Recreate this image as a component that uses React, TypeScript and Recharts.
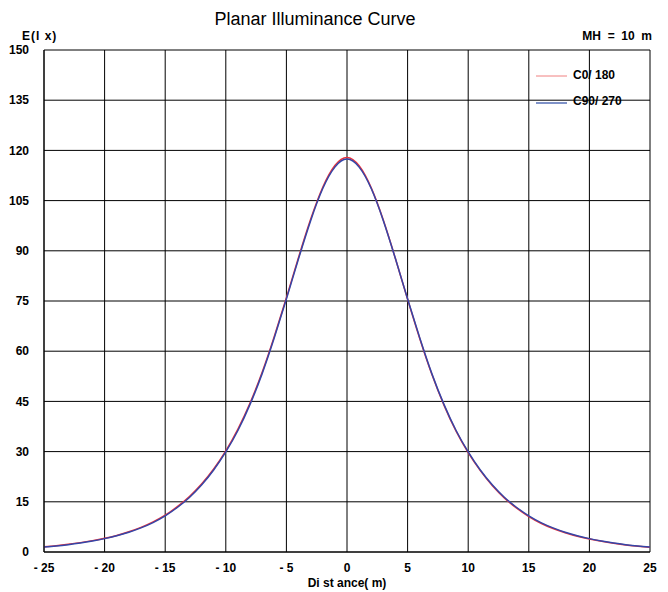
import React from "react";
import { LineChart, Line, XAxis, YAxis, CartesianGrid } from "recharts";

const distances = [-25, -24, -23, -22, -21, -20, -19, -18, -17, -16, -15, -14, -13, -12, -11, -10, -9, -8, -7, -6, -5, -4, -3, -2, -1, 0, 1, 2, 3, 4, 5, 6, 7, 8, 9, 10, 11, 12, 13, 14, 15, 16, 17, 18, 19, 20, 21, 22, 23, 24, 25];
const c0Values = [1.6, 1.9, 2.3, 2.8, 3.4, 4.1, 4.95, 6.05, 7.35, 9.0, 11.0, 13.55, 16.6, 20.3, 24.8, 30.2, 36.7, 44.5, 53.7, 64.4, 76.0, 88.0, 99.4, 109.0, 115.5, 117.9, 115.4, 108.8, 99.1, 87.6, 75.5, 63.8, 53.1, 43.9, 36.1, 29.7, 24.3, 19.8, 16.1, 13.1, 10.6, 8.6, 7.0, 5.75, 4.7, 3.9, 3.2, 2.6, 2.1, 1.75, 1.4];
const c90Values = [1.5, 1.8, 2.2, 2.7, 3.3, 4.0, 4.85, 5.9, 7.2, 8.8, 10.8, 13.3, 16.3, 20.0, 24.5, 29.9, 36.3, 44.1, 53.3, 64.0, 75.6, 87.6, 99.0, 108.6, 115.0, 117.4, 115.0, 108.6, 99.0, 87.6, 75.6, 64.0, 53.3, 44.1, 36.3, 29.9, 24.5, 20.0, 16.3, 13.3, 10.8, 8.8, 7.2, 5.9, 4.85, 4.0, 3.3, 2.7, 2.2, 1.8, 1.5];

const xTicks = [-25, -20, -15, -10, -5, 0, 5, 10, 15, 20, 25];
const xTickLabels = ["- 25", "- 20", "- 15", "- 10", "- 5", "0", "5", "10", "15", "20", "25"];
const yTicks = [0, 15, 30, 45, 60, 75, 90, 105, 120, 135, 150];

const seriesNames = ["C0/ 180", "C90/ 270"];
const seriesColors = ["#e8323c", "#3446a8"];
const legendColors = ["#f08080", "#7f92c8"];

const data = distances.map((d, i) => ({ x: d, c0: c0Values[i], c90: c90Values[i] }));

const FONT = '"Liberation Sans", Arial, sans-serif';

const tickStyle = { fontFamily: FONT, fontSize: 12, fontWeight: 700, fill: "#000" };

const LegendBox = () => (
  <div style={{ position: "absolute", left: 536, top: 62, fontFamily: FONT, fontSize: 12, fontWeight: 700, color: "#000" }}>
    {seriesNames.map((n, i) => (
      <div key={n} style={{ display: "flex", alignItems: "center", height: 26 }}>
        <svg width={36} height={8} style={{ marginRight: 1 }}>
          <line x1={0} y1={i === 0 ? 5 : 6} x2={31} y2={i === 0 ? 5 : 6} stroke={legendColors[i]} strokeWidth={i === 0 ? 1 : 2} />
        </svg>
        <span style={{ whiteSpace: "pre" }}>{n}</span>
      </div>
    ))}
  </div>
);

export default function App() {
  return (
    <div style={{ position: "absolute", left: 0, top: 0, width: 668, height: 592, background: "#fff" }}>
      <div style={{ position: "absolute", left: 0, width: 630, top: 8, textAlign: "center", fontFamily: FONT, fontSize: 18, lineHeight: "22px", color: "#000" }}>
        Planar Illuminance Curve
      </div>
      <div style={{ position: "absolute", left: 22, top: 29, fontFamily: FONT, fontSize: 12, fontWeight: 700, letterSpacing: 1, lineHeight: "14px", whiteSpace: "pre" }}>
        E(l x)
      </div>
      <div style={{ position: "absolute", right: 16, top: 29, fontFamily: FONT, fontSize: 12, fontWeight: 700, lineHeight: "14px", whiteSpace: "pre" }}>
        {"MH  =  10  m"}
      </div>
      <LineChart width={668} height={592} data={data} margin={{ top: 50, right: 18, left: 0, bottom: 0 }} style={{ position: "absolute", left: 0, top: 0 }}>
        <CartesianGrid stroke="#000" strokeWidth={1} />
        <XAxis
          type="number"
          dataKey="x"
          domain={[-25, 25]}
          ticks={xTicks}
          tickFormatter={(v) => xTickLabels[xTicks.indexOf(v)]}
          tick={tickStyle}
          tickLine={false}
          tickMargin={5}
          axisLine={{ stroke: "#000" }}
          height={40}
          interval={0}
          label={{ value: "Di st ance( m)", position: "insideBottom", offset: 5, style: { ...tickStyle, whiteSpace: "pre" } }}
        />
        <YAxis
          type="number"
          domain={[0, 150]}
          ticks={yTicks}
          tick={tickStyle}
          tickLine={false}
          tickMargin={9}
          axisLine={{ stroke: "#000" }}
          width={44}
          interval={0}
        />
        <Line type="natural" dataKey="c0" name={seriesNames[0]} stroke={seriesColors[0]} strokeWidth={1.5} dot={false} isAnimationActive={false} />
        <Line type="natural" dataKey="c90" name={seriesNames[1]} stroke={seriesColors[1]} strokeWidth={1.5} dot={false} isAnimationActive={false} />
      </LineChart>
      <LegendBox />
    </div>
  );
}
